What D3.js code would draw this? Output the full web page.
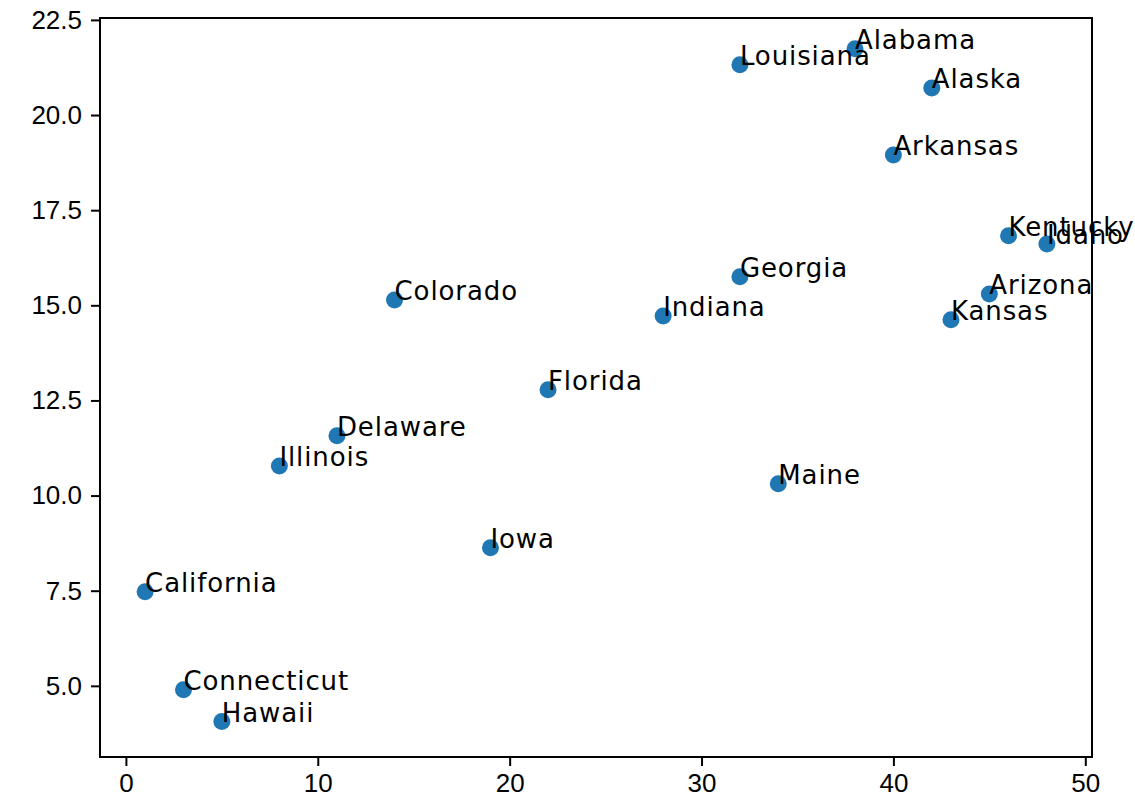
<!DOCTYPE html>
<html>
<head>
<meta charset="utf-8">
<script src="https://cdn.jsdelivr.net/npm/d3@7"></script>
<style>
  html, body { margin: 0; padding: 0; background: #fff; }
  svg { display: block; font-family: "DejaVu Sans", sans-serif; }
  .axis text { font-size: 26px; fill: #000; }
  .axis line { stroke: #000; stroke-width: 2; }
  .lbl { font-size: 26px; fill: #000; letter-spacing: 0.9px; }
</style>
</head>
<body>
<div id="chart"></div>
<script>
// data
const states = ["Alabama", "Louisiana", "Alaska", "Arkansas", "Kentucky", "Idaho",
  "Georgia", "Colorado", "Arizona", "Indiana", "Kansas", "Florida", "Delaware",
  "Illinois", "Maine", "Iowa", "California", "Connecticut", "Hawaii"];
const xVals = [38, 32, 42, 40, 46, 48, 32, 14, 45, 28, 43, 22, 11, 8, 34, 19, 1, 3, 5];
const yVals = [21.74, 21.32, 20.71, 18.95, 16.83, 16.61, 15.75, 15.14, 15.30, 14.72,
  14.62, 12.78, 11.57, 10.78, 10.31, 8.63, 7.47, 4.90, 4.06];
const xTicks = [0, 10, 20, 30, 40, 50];
const yTicks = [5, 7.5, 10, 12.5, 15, 17.5, 20, 22.5];

const width = 1135, height = 802;
const margin = { top: 18, right: 43, bottom: 45, left: 100 };
const innerW = width - margin.left - margin.right;
const innerH = height - margin.top - margin.bottom;

const svg = d3.select("#chart").append("svg")
  .attr("width", width).attr("height", height);

const g = svg.append("g")
  .attr("transform", `translate(${margin.left},${margin.top})`);

const x = d3.scaleLinear().domain([-1.35, 50.35]).range([0, innerW]);
const y = d3.scaleLinear().domain([3.13, 22.55]).range([innerH, 0]);

// axes (ticks outward, like matplotlib)
g.append("g")
  .attr("class", "axis")
  .attr("transform", `translate(0,${innerH})`)
  .call(d3.axisBottom(x).tickValues(xTicks).tickFormat(d3.format("d")).tickSize(9).tickPadding(8))
  .call(a => a.select(".domain").remove());

g.append("g")
  .attr("class", "axis")
  .call(d3.axisLeft(y).tickValues(yTicks).tickFormat(d3.format(".1f")).tickSize(9).tickPadding(9))
  .call(a => a.select(".domain").remove());

const pts = states.map((s, i) => ({ name: s, x: xVals[i], y: yVals[i] }));

// points
g.selectAll("circle.pt")
  .data(pts)
  .join("circle")
  .attr("class", "pt")
  .attr("cx", d => x(d.x))
  .attr("cy", d => y(d.y))
  .attr("r", 8.5)
  .attr("fill", "#1f77b4");

// annotations: baseline-left at the point
g.selectAll("text.lbl")
  .data(pts)
  .join("text")
  .attr("class", "lbl")
  .attr("x", d => x(d.x))
  .attr("y", d => y(d.y))
  .text(d => d.name);

// frame
g.append("rect")
  .attr("width", innerW).attr("height", innerH)
  .attr("fill", "none").attr("stroke", "#000").attr("stroke-width", 2);
</script>
</body>
</html>
